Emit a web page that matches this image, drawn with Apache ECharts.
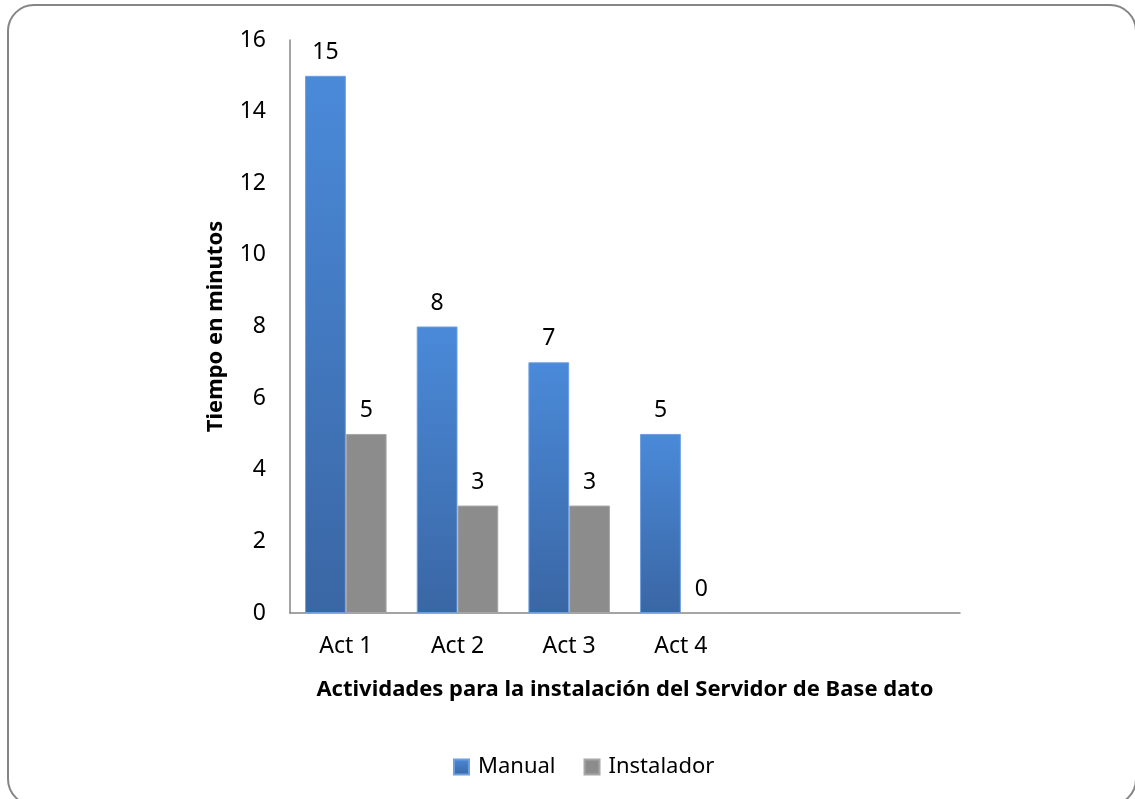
<!DOCTYPE html>
<html>
<head>
<meta charset="utf-8">
<script src="https://cdn.jsdelivr.net/npm/echarts@6/dist/echarts.min.js"></script>
<style>
  html, body { margin: 0; padding: 0; background: #ffffff; }
  #chart { width: 1135px; height: 799px; }
</style>
</head>
<body>
<div id="chart"></div>
<script>
// Activities (two trailing empty slots keep the axis extended to the right)
const categories = ['Act 1', 'Act 2', 'Act 3', 'Act 4', '', ''];
const manual = [15, 8, 7, 5, null, null];
const instalador = [5, 3, 3, 0, null, null];
const seriesNames = ['Manual', 'Instalador'];
const yTitle = 'Tiempo en minutos';
const xTitle = 'Actividades para la instalación del Servidor de Base dato';

const FONT = '"Noto Sans", "Open Sans", sans-serif';

const chart = echarts.init(document.getElementById('chart'), null, { renderer: 'canvas' });

const blueGradient = new echarts.graphic.LinearGradient(0, 0, 0, 1, [
  { offset: 0, color: '#4a8ad9' },
  { offset: 1, color: '#3a66a4' }
]);

const labelStyle = {
  show: true,
  position: 'top',
  distance: 12,
  color: '#000000',
  fontSize: 23,
  fontFamily: FONT
};

chart.setOption({
  animation: false,
  backgroundColor: '#ffffff',
  graphic: [{
    type: 'rect',
    shape: { x: 8, y: 5, width: 1128, height: 800, r: 26 },
    style: { fill: 'none', stroke: '#858585', lineWidth: 2 },
    z: 0
  }],
  grid: { left: 290, right: 175, top: 40, bottom: 186, containLabel: false },
  legend: {
    data: seriesNames,
    bottom: 16,
    left: 448,
    itemWidth: 15,
    itemHeight: 15,
    itemGap: 28,
    icon: 'rect',
    textStyle: { fontSize: 22, fontFamily: FONT, color: '#000000', padding: [0, 0, 0, 4] }
  },
  xAxis: {
    type: 'category',
    data: categories,
    name: xTitle,
    nameLocation: 'middle',
    nameGap: 66,
    nameTextStyle: { fontSize: 22, fontWeight: 'bold', fontFamily: FONT, color: '#000000' },
    axisLine: { lineStyle: { color: '#868686', width: 1.5 } },
    axisTick: { show: false },
    axisLabel: { fontSize: 23, fontFamily: FONT, color: '#000000', margin: 22 }
  },
  yAxis: {
    type: 'value',
    min: 0,
    max: 16,
    interval: 2,
    name: yTitle,
    nameLocation: 'middle',
    nameGap: 63,
    nameTextStyle: { fontSize: 22, fontWeight: 'bold', fontFamily: FONT, color: '#000000' },
    axisLine: { show: true, lineStyle: { color: '#868686', width: 1.5 } },
    axisTick: { show: false },
    splitLine: { show: false },
    axisLabel: { fontSize: 23, fontFamily: FONT, color: '#000000', margin: 24 }
  },
  series: [
    {
      name: seriesNames[0],
      type: 'bar',
      data: manual,
      barGap: '0%',
      barCategoryGap: '27%',
      itemStyle: { color: blueGradient, borderColor: '#6d9ee0', borderWidth: 1 },
      label: labelStyle
    },
    {
      name: seriesNames[1],
      type: 'bar',
      data: instalador,
      itemStyle: { color: '#8c8c8c', borderColor: '#a6a6a6', borderWidth: 1 },
      label: labelStyle
    }
  ]
});
</script>
</body>
</html>
